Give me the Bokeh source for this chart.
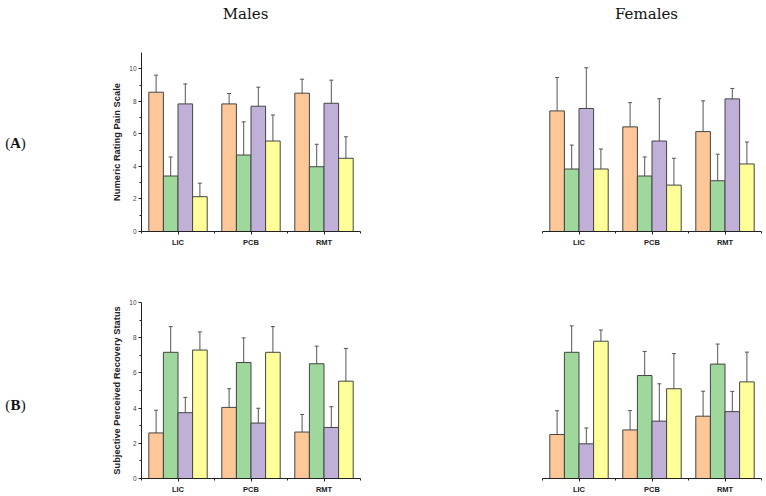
from bokeh.plotting import figure
from bokeh.models import ColumnDataSource, Whisker, TeeHead, FixedTicker, Range1d
from bokeh.layouts import column, row
from bokeh.embed import file_html
from bokeh.resources import INLINE
from bokeh.core.properties import value

categories = ["LIC", "PCB", "RMT"]
series_colors = ["#FDC797", "#9ED89C", "#C0B0D8", "#FFFF99"]
y_ticks = [0, 2, 4, 6, 8, 10]
y_minor = [1, 3, 5, 7, 9]
column_titles = ["Males", "Females"]
row_letters = ["A", "B"]
y_labels = ["Numeric Rating Pain Scale", "Subjective Perceived Recovery Status"]

# (A) Numeric Rating Pain Scale - Males (rows: 4 series; cols: categories)
males_pain_vals = [[8.56, 7.84, 8.50], [3.41, 4.70, 3.98], [7.84, 7.70, 7.88], [2.14, 5.56, 4.50]]
males_pain_errs = [[1.05, 0.64, 0.86], [1.17, 2.04, 1.38], [1.23, 1.17, 1.42], [0.83, 1.60, 1.32]]
# (A) Females
females_pain_vals = [[7.41, 6.43, 6.14], [3.84, 3.41, 3.12], [7.56, 5.56, 8.15], [3.84, 2.85, 4.15]]
females_pain_errs = [[2.05, 1.49, 1.89], [1.47, 1.17, 1.63], [2.50, 2.60, 0.64], [1.23, 1.65, 1.35]]
# (B) Subjective Perceived Recovery Status - Males
males_rec_vals = [[2.59, 4.04, 2.64], [7.17, 6.59, 6.52], [3.74, 3.15, 2.90], [7.30, 7.17, 5.53]]
males_rec_errs = [[1.29, 1.06, 1.00], [1.46, 1.40, 1.00], [0.87, 0.84, 1.18], [1.03, 1.46, 1.86]]
# (B) Females
females_rec_vals = [[2.50, 2.76, 3.54], [7.17, 5.85, 6.50], [1.97, 3.26, 3.80], [7.80, 5.10, 5.49]]
females_rec_errs = [[1.35, 1.10, 1.42], [1.50, 1.37, 1.14], [0.90, 2.12, 1.15], [0.64, 2.00, 1.69]]

SANS = "Liberation Sans"
SERIF = "Liberation Serif"
TITLE_SERIF = "DejaVu Serif"


def panel(vals, errs, ymax, show_y, ylabel, width, height, bl, br, bt, bb):
    n = len(categories)
    p = figure(width=width, height=height, output_backend="svg", toolbar_location=None,
               x_range=Range1d(0, n), y_range=Range1d(0, ymax),
               min_border_left=bl, min_border_right=br, min_border_top=bt, min_border_bottom=bb)
    p.outline_line_color = None
    p.grid.visible = False
    p.background_fill_color = "white"
    p.border_fill_color = "white"
    nser = len(vals)
    bw = 0.8 / nser
    for k in range(nser):
        off = -0.4 + bw * (k + 0.5)
        xs = [i + 0.5 + off for i in range(n)]
        up = [v + e for v, e in zip(vals[k], errs[k])]
        lo = [v - e for v, e in zip(vals[k], errs[k])]
        src = ColumnDataSource(dict(x=xs, top=vals[k], upper=up, lower=lo))
        p.vbar(x="x", top="top", bottom=0, width=bw, source=src,
               fill_color=series_colors[k], line_color="#444444", line_width=1)
        w = Whisker(source=src, base="x", upper="upper", lower="lower",
                    line_color="#555555", line_width=1,
                    upper_head=TeeHead(size=4, line_color="#555555", line_width=1),
                    lower_head=TeeHead(size=4, line_color="#555555", line_width=1))
        p.add_layout(w)

    xa = p.xaxis[0]
    xa.ticker = FixedTicker(ticks=[i + 0.5 for i in range(n)], minor_ticks=list(range(n + 1)))
    xa.major_label_overrides = {i + 0.5: c for i, c in enumerate(categories)}
    xa.major_label_text_font = SANS
    xa.major_label_text_font_size = "7.5px"
    xa.major_label_text_font_style = "bold"
    xa.major_label_text_color = "#222222"
    xa.major_label_standoff = 3
    xa.axis_line_color = "#222222"
    xa.major_tick_line_color = "#222222"
    xa.minor_tick_line_color = "#222222"
    xa.major_tick_out = 3
    xa.major_tick_in = 0
    xa.minor_tick_out = 2
    xa.minor_tick_in = 0

    ya = p.yaxis[0]
    if show_y:
        ya.ticker = FixedTicker(ticks=y_ticks, minor_ticks=y_minor)
        ya.major_label_text_font = SANS
        ya.major_label_text_font_size = "6.5px"
        ya.major_label_text_color = "#444444"
        ya.major_label_standoff = 2
        ya.axis_line_color = "#222222"
        ya.major_tick_line_color = "#222222"
        ya.minor_tick_line_color = "#222222"
        ya.major_tick_out = 3
        ya.major_tick_in = 0
        ya.minor_tick_out = 2
        ya.minor_tick_in = 0
        ya.axis_label = ylabel
        ya.axis_label_text_font = SANS
        ya.axis_label_text_font_size = "9.3px"
        ya.axis_label_text_font_style = "bold"
        ya.axis_label_text_color = "#222222"
        ya.axis_label_standoff = 4
    else:
        ya.visible = False
    return p


def blank_fig(width, height):
    f = figure(width=width, height=height, output_backend="svg", toolbar_location=None,
               x_range=Range1d(0, width), y_range=Range1d(0, height),
               x_axis_location=None, y_axis_location=None,
               min_border_left=0, min_border_right=0, min_border_top=0, min_border_bottom=0)
    f.outline_line_color = None
    f.grid.visible = False
    return f


def add_texts(f, xs, ys, texts, size, bold, align, font=SERIF):
    f.text(x=xs, y=ys, text=texts, text_font=value(font), text_font_size=size,
           text_font_style="bold" if bold else "normal", text_color="#111111",
           text_align=align, text_baseline="middle")


header = blank_fig(766, 30)
add_texts(header, [245, 646], [17, 17], column_titles, "15px", False, "center", TITLE_SERIF)


def row_label_fig(height, y, letter):
    f = blank_fig(100, height)
    add_texts(f, [15], [y], [letter], "15px", True, "center")
    add_texts(f, [9.7], [y], ["("], "15px", False, "right")
    add_texts(f, [20.3], [y], [")"], "15px", False, "left")
    return f


labA = row_label_fig(235, 116, row_letters[0])
labB = row_label_fig(231, 97, row_letters[1])

p1 = panel(males_pain_vals, males_pain_errs, 11, True, y_labels[0], 350, 235, 41, 90, 22, 34)
p2 = panel(females_pain_vals, females_pain_errs, 11, False, "", 316, 235, 92, 5, 22, 34)
p3 = panel(males_rec_vals, males_rec_errs, 10, True, y_labels[1], 350, 231, 41, 90, 37, 15)
p4 = panel(females_rec_vals, females_rec_errs, 10, False, "", 316, 231, 92, 5, 37, 15)

layout = column(header, row(labA, p1, p2, spacing=0), row(labB, p3, p4, spacing=0), spacing=0)

with open("out.html", "w") as f:
    f.write(file_html(layout, INLINE))
